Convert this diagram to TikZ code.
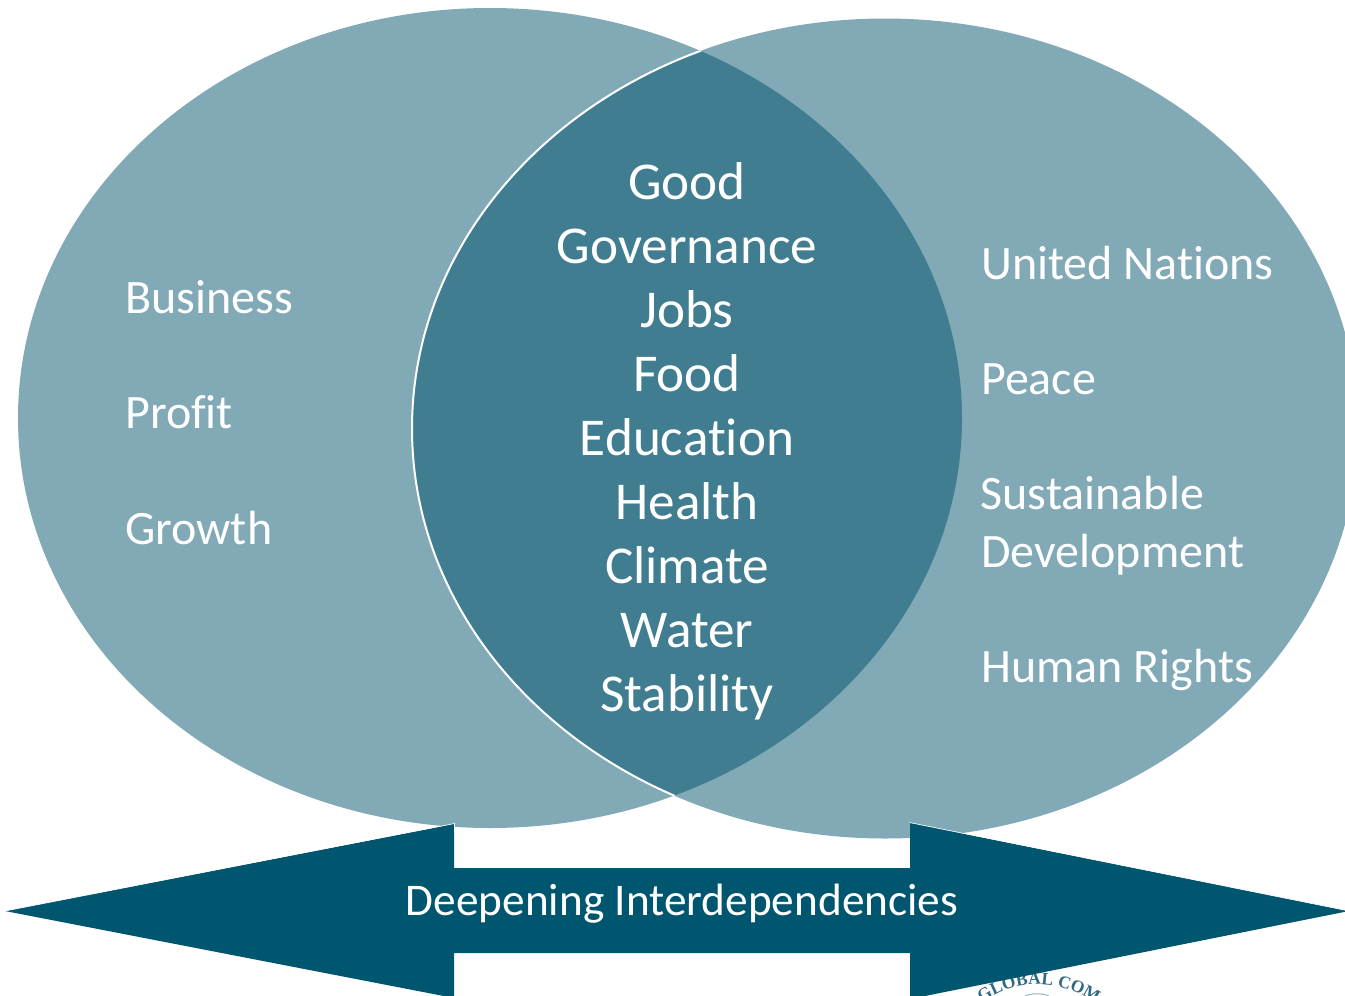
\documentclass[tikz,border=0pt]{standalone}
\usepackage{fontspec}
\usetikzlibrary{decorations.text}
\setmainfont[Ligatures=CommonOff]{Carlito}
\newfontfamily\logofont{Liberation Serif}
\definecolor{lightteal}{HTML}{81A9B6}
\definecolor{darkteal}{HTML}{417D91}
\definecolor{arrowteal}{HTML}{00566F}
\definecolor{logoteal}{HTML}{2F6A82}
\tikzset{
  big/.style={text=white,font=\fontsize{53.2}{64}\selectfont,anchor=base,inner sep=0pt},
  side/.style={text=white,font=\fontsize{48}{58}\selectfont,anchor=base west,inner sep=0pt},
}
\begin{document}
\begin{tikzpicture}[x=1pt,y=-1pt]
\path[use as bounding box] (0,0) rectangle (1345,996);
\clip (0,0) rectangle (1345,996);
\def\LE{(490,418) ellipse [x radius=472,y radius=410]}
\def\RE{(885,428.5) ellipse [x radius=473,y radius=410]}
\fill[lightteal] \LE;
\fill[lightteal] \RE;
\begin{scope}
  \clip \LE;
  \fill[darkteal] \RE;
  \draw[white,line width=2pt] \RE;
\end{scope}
\path[decorate,decoration={text along path,text align=center,
  text={|\logofont\bfseries\fontsize{17.5}{17.5}\selectfont\color{logoteal}|GLOBAL COM}}]
  (978,1006) .. controls (1015,977) and (1060,977) .. (1100,1006);
\draw[logoteal,line width=1pt,opacity=.5] (1025,996) .. controls (1032,993) and (1042,993) .. (1049,996);
\coordinate (tipL) at (5,911);
\coordinate (tipR) at (1349,911);
\fill[arrowteal] (tipL) -- (454,824) -- (454,868) -- (910,868) -- (910,823) -- (tipR) -- (910,999) -- (910,953) -- (454,953) -- (454,998) -- cycle;
\draw[white,line width=0.6pt] (tipL) -- (454.5,823.5) -- (454.5,832);
\draw[white,line width=0.6pt] (tipR) -- (909.5,822.5);
\foreach \n/\t [count=\k from 0] in {c1/Good,c2/Governance,c3/Jobs,c4/Food,c5/Education,c6/Health,c7/Climate,c8/Water,c9/Stability}{
  \node[big] (\n) at (687,{199+64*\k}) {\t};
}
\node[side] (l1) at (125,313) {Business};
\node[side] (l2) at (125,428) {Profit};
\node[side] (l3) at (125,544) {Growth};
\node[side] (r1) at (981,279) {United Nations};
\node[side] (r2) at (981,394) {Peace};
\node[side] (r3) at (980.5,509) {Sustainable};
\node[side] (r4) at (981,567) {Development};
\node[side] (r5) at (981,682) {Human Rights};
\node[text=white,font=\fontsize{45.3}{45}\selectfont,inner sep=0pt,anchor=base] (t) at (682,915.5) {Deepening Interdependencies};
\end{tikzpicture}
\end{document}
